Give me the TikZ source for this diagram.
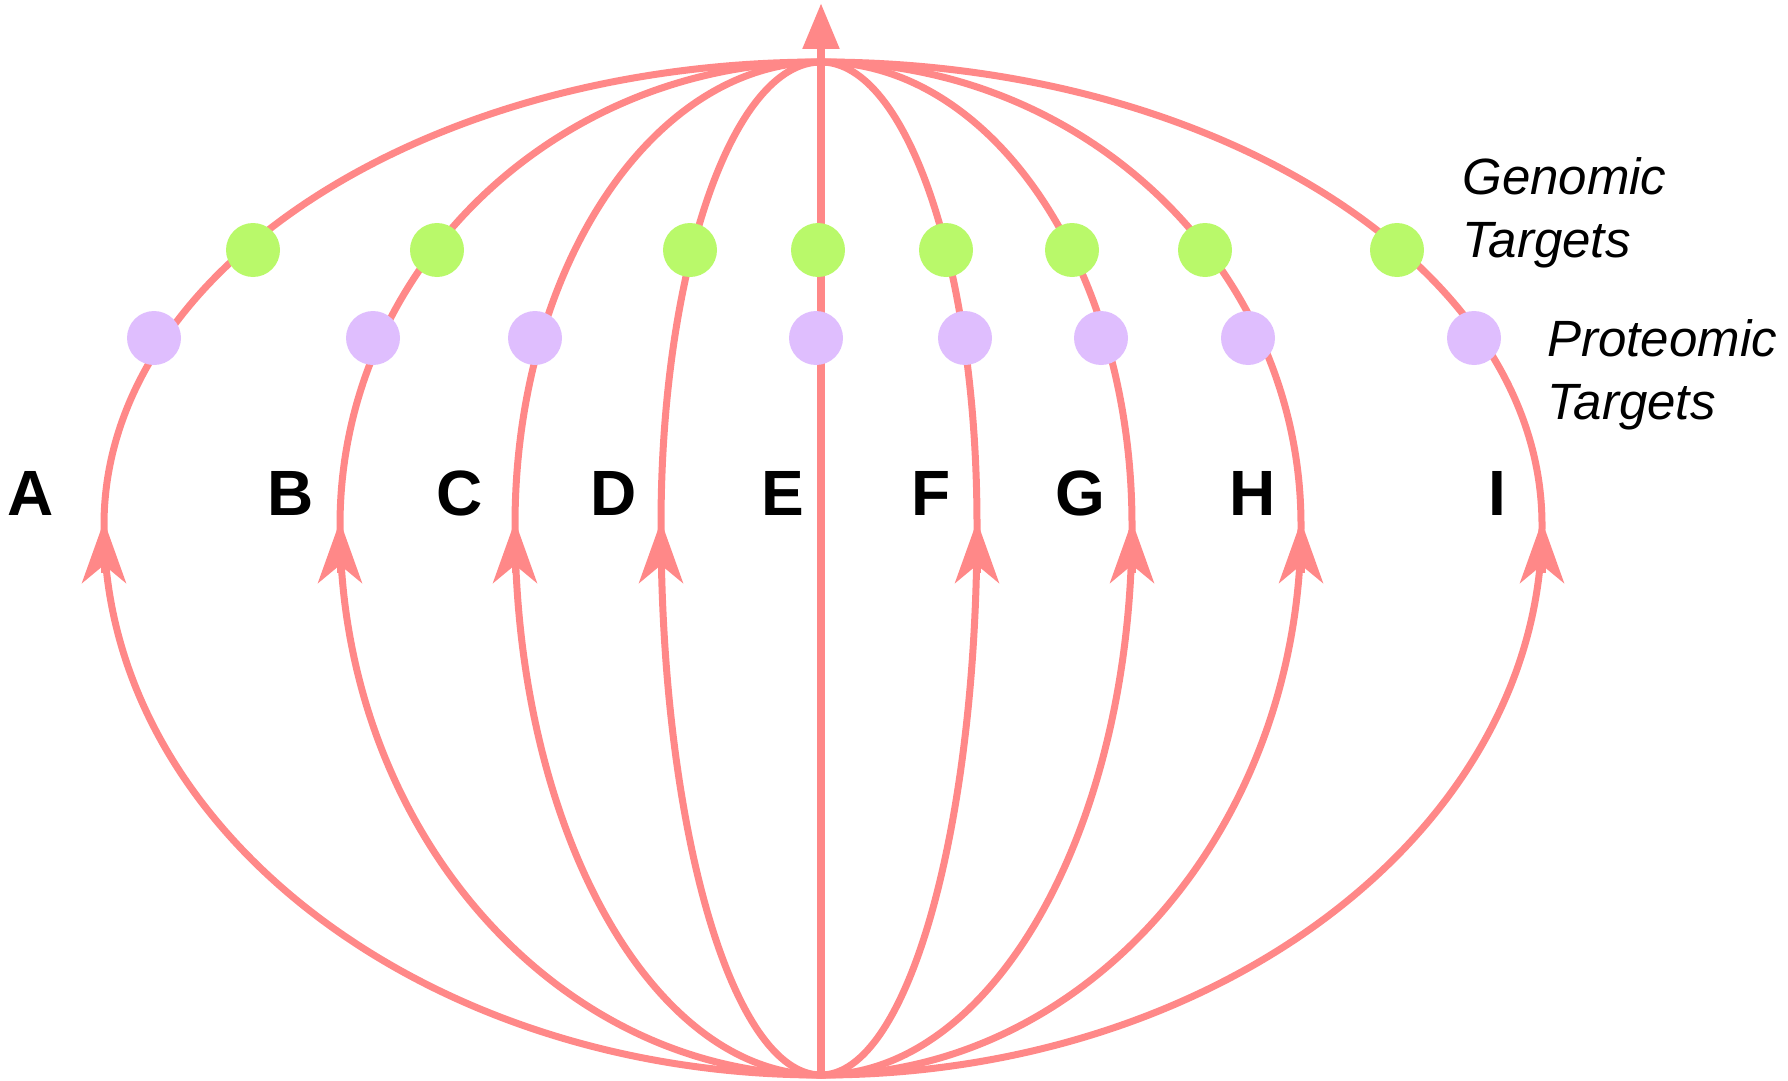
\documentclass[tikz,border=0pt]{standalone}
\usepackage{fontspec}
\setmainfont{Liberation Sans}
\usetikzlibrary{arrows.meta}
\definecolor{curvecol}{RGB}{255,136,136}
\definecolor{gdot}{RGB}{185,249,106}
\definecolor{pdot}{RGB}{223,190,254}
\begin{document}
\begin{tikzpicture}[x=0.5pt,y=0.5pt,
  curve/.style={draw=curvecol, line width=3.5pt},
  midtip/.style={draw=curvecol, line width=3.5pt, -{Stealth[length=31pt,width=22pt,inset=9pt]}},
  axisline/.style={draw=curvecol, line width=4.2pt, -{Triangle[length=23pt,width=17.5pt]}},
  gdotst/.style={circle, fill=gdot, minimum size=27pt, inner sep=0pt},
  pdotst/.style={circle, fill=pdot, minimum size=27pt, inner sep=0pt},
  letter/.style={font=\fontsize{32}{38}\selectfont\bfseries, inner sep=0pt},
  legend/.style={font=\fontsize{25.5}{31.5}\selectfont\itshape, align=left, inner sep=0pt, anchor=west}]

\useasboundingbox (0,0) rectangle (1788,-1081);
\coordinate (bot) at (821,-1075);
\coordinate (tip) at (821,-3);

% left meridians
\foreach \n/\r in {A/358.5,B/240.5,C/153,D/80}{
  \draw[curve] (bot) arc[start angle=270,end angle=180,x radius=\r pt,y radius=275pt]
     coordinate (m\n) arc[start angle=180,end angle=90,x radius=\r pt,y radius=231.5pt];
  \draw[midtip] ([yshift=-24pt]m\n) -- ([yshift=2pt]m\n);
}
% right meridians
\foreach \n/\r in {F/78,G/155.5,H/240,I/360.5}{
  \draw[curve] (bot) arc[start angle=-90,end angle=0,x radius=\r pt,y radius=275pt]
     coordinate (m\n) arc[start angle=0,end angle=90,x radius=\r pt,y radius=231.5pt];
  \draw[midtip] ([yshift=-24pt]m\n) -- ([yshift=2pt]m\n);
}
% central axis
\draw[axisline] (bot) -- (tip);

% genomic targets
\foreach \n/\x in {A/253,B/437,D/690,E/818,F/946,G/1072,H/1205,I/1397}
  \node[gdotst] (g\n) at (\x,-250) {};
% proteomic targets
\foreach \n/\x in {A/154,B/373,C/535,E/816,F/965,G/1101,H/1248,I/1474}
  \node[pdotst] (p\n) at (\x,-338) {};

% letters
\foreach \n/\x in {A/31,B/291,C/460,D/614,E/783,F/931,G/1080,H/1253,I/1497}
  \node[letter] (l\n) at (\x,-493) {\n};

\node[legend] (gen) at (1462,-213) {Genomic\\Targets};
\node[legend] (prot) at (1547,-375) {Proteomic\\Targets};
\end{tikzpicture}
\end{document}
